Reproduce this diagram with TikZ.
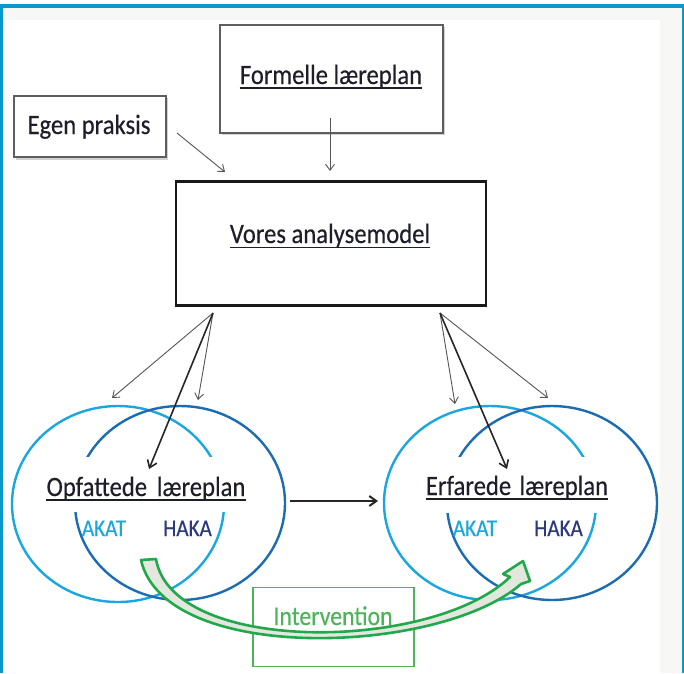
\documentclass[tikz,border=0pt]{standalone}
\usepackage{fontspec}
\setmainfont{Carlito}[FakeStretch=0.88,FakeBold=0.35]
\usetikzlibrary{arrows.meta,calc,shapes.geometric}
\definecolor{frameblue}{HTML}{0A98CB}
\definecolor{lblue}{HTML}{1AA7E0}
\definecolor{dblue}{HTML}{1C6CB4}
\definecolor{navy}{HTML}{2B3A7E}
\definecolor{txt}{HTML}{1E1E2A}
\definecolor{igreen}{HTML}{22A84A}
\definecolor{lgreen}{HTML}{4DB45A}
\definecolor{bgrey}{HTML}{F7F7F5}
\definecolor{boxgrey}{HTML}{5E5E5E}
\definecolor{arrgrey}{HTML}{555555}
\definecolor{tailfill}{HTML}{E3E8DF}
\begin{document}
\begin{tikzpicture}[x=1pt,y=-1pt,
  txtm/.style={font=\fontsize{28}{30}\selectfont, text=txt, inner sep=0pt, anchor=base},
  txts/.style={font=\fontsize{24}{26}\selectfont, inner sep=0pt, anchor=base},
  gbox/.style={draw=boxgrey, line width=1.4pt, fill=white, inner sep=0pt},
  ul/.style={draw=txt, line width=1.3pt},
  thinarr/.style={draw=arrgrey, line width=0.9pt, -{Straight Barb[length=6pt,width=9pt]}},
  thickarr/.style={draw=black!85, line width=1.6pt, -{Straight Barb[length=7pt,width=10pt]}},
  ell/.style={ellipse, line width=2.4pt, inner sep=0pt},
]
\useasboundingbox (0,0) rectangle (684,673);
% frame
\fill[white] (0,0) rectangle (684,673);
\fill[bgrey] (3,8) rectangle (684,673);
\fill[white] (4,20) rectangle (660,673);
\fill[frameblue] (0,4) rectangle (684,8);
\fill[frameblue] (0,4) rectangle (3,673);
\fill[frameblue] (682,8) rectangle (684,673);

% boxes
\fill[black!18] (16,98) rectangle (168,160);
\node[gbox, minimum width=152pt, minimum height=61pt] (eg) at (90,126.5) {};
\fill[black!18] (222,27) rectangle (445,135);
\node[gbox, minimum width=223pt, minimum height=108pt] (fo) at (331.5,79) {};
\node[draw=black!90, line width=2.4pt, fill=white, inner sep=0pt, minimum width=310pt, minimum height=124pt] (vo) at (331,243.5) {};

\node[txtm] (egt) at (89,134) {Egen praksis};
\node[txtm] (fot) at (331,84) {Formelle læreplan};
\draw[ul] ([yshift=-4pt]fot.base west) -- ([yshift=-4pt]fot.base east);
\node[txtm] (vot) at (330,243) {Vores analysemodel};
\draw[ul] ([yshift=-4.5pt]vot.base west) -- ([yshift=-4.5pt]vot.base east);

% ellipses
\node[ell, draw=lblue, minimum width=212pt, minimum height=196pt] (lo1) at (118,504) {};
\node[ell, draw=dblue, minimum width=210pt, minimum height=194pt] (lo2) at (180,503) {};
\node[ell, draw=lblue, minimum width=212pt, minimum height=194pt] (ro1) at (490,503) {};
\node[ell, draw=dblue, minimum width=210pt, minimum height=194pt] (ro2) at (552,503) {};
\fill[white] (60,457) rectangle (235,512);
\fill[white] (430,457) rectangle (610,513);

\node[txtm] (opt) at (146,496) {Opfattede\hspace{0.15em} læreplan};
\draw[ul] ([yshift=-4pt]opt.base west) -- ([yshift=-4pt]opt.base east);
\node[txtm] (ert) at (517,495) {Erfarede\hspace{0.1em} læreplan};
\draw[ul] ([yshift=-4pt]ert.base west) -- ([yshift=-4pt]ert.base east);
\node[txts, text=lblue] (ak1) at (104,536) {AKAT};
\node[txts, text=navy] (ha1) at (187.5,536) {HAKA};
\node[txts, text=lblue] (ak2) at (475,536) {AKAT};
\node[txts, text=navy] (ha2) at (558.5,536) {HAKA};

% connectors
\coordinate (egs) at (177,133); \coordinate (ege) at (225,172);
\draw[thinarr] (egs) -- (ege);
\coordinate (fos) at (330,118); \coordinate (foe) at (330,171);
\draw[thinarr] (fos) -- (foe);
\coordinate (vbl) at (213,313); \coordinate (vbr) at (440,313);
\coordinate (tl1) at (112,398); \coordinate (tl2) at (198,400); \coordinate (tl3) at (149,469);
\coordinate (tr1) at (455,404); \coordinate (tr2) at (548,398); \coordinate (tr3) at (507,469);
\draw[thinarr] (vbl) -- (tl1);
\draw[thinarr] (vbl) -- (tl2);
\draw[thickarr] (vbl) -- (tl3);
\draw[thinarr] (vbr) -- (tr1);
\draw[thinarr] (vbr) -- (tr2);
\draw[thickarr] (vbr) -- (tr3);
\coordinate (hs) at (290,501); \coordinate (he) at (378,501);
\draw[thickarr, line width=2pt] (hs) -- (he);

% intervention
\node[draw=lgreen, line width=1.5pt, fill=white, inner sep=0pt, minimum width=161pt, minimum height=79pt] (iv) at (333.5,627) {};
\node[font=\fontsize{27}{29}\selectfont, text=lgreen, inner sep=0pt, anchor=base] (ivt) at (333,625) {Intervention};

% green block arrow
\draw[igreen, line width=2.6pt, fill=tailfill, line join=round]
  (141,560) -- (156,559)
  .. controls (172,655) and (432,652) .. (510,577)
  -- (503,574) -- (523,561) -- (530,581) -- (521,584)
  .. controls (440,655) and (165,665) .. cycle;
\end{tikzpicture}
\end{document}
